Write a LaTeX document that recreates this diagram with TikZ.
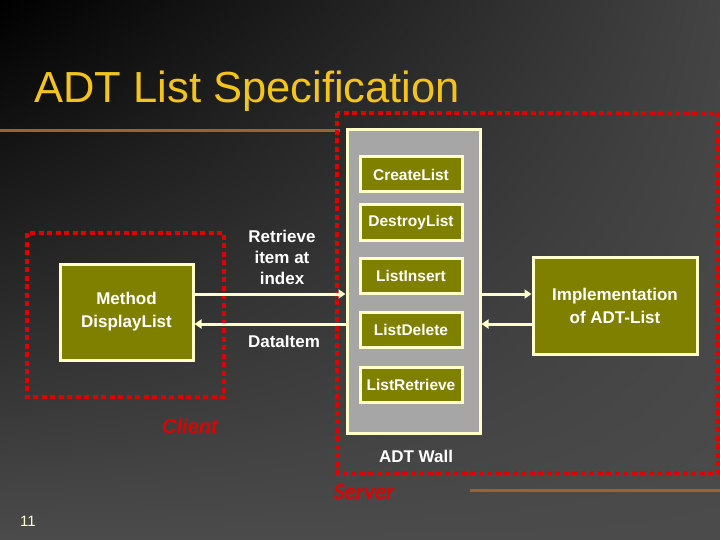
\documentclass[tikz,border=0pt]{standalone}
\usepackage{fontspec}
\setmainfont{Liberation Sans}
\newfontfamily\serverfont{Carlito}
\usetikzlibrary{arrows.meta,shadings}
\definecolor{olivebox}{HTML}{808000}
\definecolor{creamline}{HTML}{FFFFCC}
\definecolor{titleyellow}{HTML}{F2C41C}
\definecolor{wallgray}{HTML}{A6A6A6}
\definecolor{dotred}{HTML}{E00000}
\definecolor{stripe}{HTML}{9A6430}
\definecolor{slatebg}{HTML}{4B4B4B}
\tikzset{
  method/.style={draw=creamline, line width=3pt, fill=olivebox, text=white,
    font=\bfseries\fontsize{15.5}{18}\selectfont, minimum width=102pt,
    minimum height=35pt, inner sep=0pt},
  bigbox/.style={method, font=\bfseries\fontsize{17}{23}\selectfont, align=center},
  redzone/.style={draw=dotred, line width=4.5pt, dash pattern=on 5pt off 3.5pt},
  link/.style={draw=creamline, line width=3pt, -{Triangle[length=7pt,width=9pt]}},
  lbl/.style={text=white, font=\bfseries\fontsize{17}{21}\selectfont, align=center},
  zonelbl/.style={text=dotred, font=\bfseries\itshape\fontsize{20}{22}\selectfont}
}
\begin{document}
\begin{tikzpicture}[x=1pt, y=-1pt]
    \useasboundingbox (0,0) rectangle (720,540);
    \shade [upper left=black, upper right=slatebg!90!black, lower left=slatebg,
        lower right=slatebg] (0,0) rectangle (720,540);
    % stripes
    \draw [stripe, line width=3pt] (0,131) -- (340,131);
    \draw [stripe, line width=3pt] (470,490) -- (720,490);
    \node [text=titleyellow, anchor=base west, font=\fontsize{43.5}{48}\selectfont] (title) at (31,103) {ADT List Specification};
    % zones
    \draw [redzone] (337,113) rectangle (718,473);
    \draw [redzone] (27,233) rectangle (224,397);
    \node [zonelbl, font=\serverfont\bfseries\itshape\fontsize{23}{25}\selectfont] (server) at (364,492) {Server};
    \node [zonelbl] (client) at (190,426) {Client};
    % wall
    \node [draw=creamline, line width=3pt, fill=wallgray, minimum width=133pt, minimum height=303pt] (wall) at (413.5,281.5) {};
    \node [method] (create) at (411,174.5) {CreateList};
    \node [method] (destroy) at (411,222.5) {DestroyList};
    \node [method] (insert) at (411,275.5) {ListInsert};
    \node [method] (delete) at (411,329.5) {ListDelete};
    \node [method] (retrieve) at (411,384.5) {ListRetrieve};
    \node [lbl] (walllbl) at (416,456) {ADT Wall};
    % client and implementation
    \node [bigbox, minimum width=133pt, minimum height=96pt] (disp) at (126.5,312) {Method\\DisplayList};
    \node [bigbox, minimum width=164pt, minimum height=97pt] (impl) at (615,305.5) {Implementation\\of ADT-List};
    \coordinate (up) at ([yshift=18pt]disp.east);
    \coordinate (down) at ([yshift=-12pt]disp.east);
    \draw [link] (up) -- (up -| wall.west);
    \draw [link] (down -| wall.west) -- (down);
    \draw [link] (up -| wall.east) -- (up -| impl.west);
    \draw [link] (down -| impl.west) -- (down -| wall.east);
    \node [lbl] (ask) at (282,257) {Retrieve\\item at\\index};
    \node [lbl] (answer) at (284,342) {DataItem};
    \node [text=creamline, font=\fontsize{15}{17}\selectfont] (page) at (28,521) {11};
\end{tikzpicture}
\end{document}
